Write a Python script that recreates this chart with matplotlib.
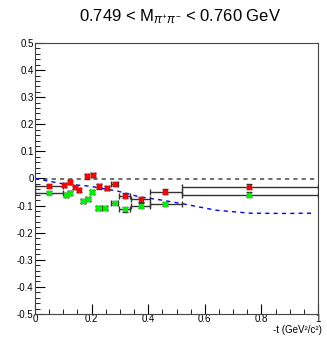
import numpy as np
import matplotlib
matplotlib.use("Agg")
import matplotlib.pyplot as plt
from matplotlib.ticker import MultipleLocator

plt.rcParams['font.family'] = ['Liberation Sans', 'DejaVu Sans']
plt.rcParams['mathtext.fontset'] = 'custom'
plt.rcParams['mathtext.rm'] = 'Liberation Sans'
plt.rcParams['mathtext.it'] = 'Liberation Sans:italic'
plt.rcParams['axes.unicode_minus'] = True

# red series
red_t = [0.05, 0.104, 0.122, 0.14, 0.154, 0.183, 0.205, 0.226, 0.255, 0.281, 0.317, 0.376, 0.458, 0.755]
red_v = [-0.028, -0.023, -0.012, -0.033, -0.041, 0.008, 0.013, -0.029, -0.034, -0.02, -0.063, -0.077, -0.049, -0.030]
red_xlo = [0.05, 0.005, 0.006, 0.006, 0.006, 0.006, 0.006, 0.008, 0.008, 0.012, 0.02, 0.036, 0.053, 0.235]
red_xhi = [0.05, 0.005, 0.006, 0.006, 0.006, 0.006, 0.006, 0.008, 0.008, 0.012, 0.02, 0.029, 0.062, 0.245]
red_yerr = [0.008, 0.007, 0.007, 0.007, 0.007, 0.008, 0.008, 0.008, 0.008, 0.008, 0.008, 0.008, 0.009, 0.01]

# green series
grn_t = [0.05, 0.11, 0.122, 0.17, 0.187, 0.201, 0.222, 0.246, 0.281, 0.317, 0.376, 0.458, 0.755]
grn_v = [-0.052, -0.061, -0.053, -0.082, -0.076, -0.049, -0.110, -0.109, -0.090, -0.114, -0.100, -0.093, -0.060]
grn_xlo = [0.05, 0.005, 0.005, 0.006, 0.006, 0.006, 0.008, 0.008, 0.012, 0.02, 0.036, 0.053, 0.235]
grn_xhi = [0.05, 0.005, 0.005, 0.006, 0.006, 0.006, 0.008, 0.008, 0.012, 0.02, 0.029, 0.062, 0.245]
grn_yerr = [0.007, 0.007, 0.007, 0.007, 0.007, 0.007, 0.008, 0.008, 0.008, 0.008, 0.008, 0.008, 0.009]

# blue dashed curve
curve_t = [0.0, 0.05, 0.1, 0.19, 0.29, 0.37, 0.45, 0.52, 0.64, 0.76, 0.88, 0.98]
curve_v = [0.0, -0.01, -0.02, -0.028, -0.046, -0.068, -0.08, -0.093, -0.117, -0.128, -0.129, -0.128]

fig = plt.figure(figsize=(3.27, 3.37), dpi=100)
ax = fig.add_axes([35/327, 23/337, 283/327, 271/337])

ax.axhline(0, color='#555555', ls=(0, (2.5, 2.5)), lw=1.2, zorder=1)
ax.plot(curve_t, curve_v, color='#0000ff', ls=(0, (3, 3)), lw=1.0, zorder=2)

ax.errorbar(red_t, red_v, xerr=[red_xlo, red_xhi], yerr=red_yerr, fmt='s',
            color='#ff0000', mec='#ff0000', ms=3, ecolor='#333333', elinewidth=1,
            capsize=2, zorder=3)
ax.errorbar(grn_t, grn_v, xerr=[grn_xlo, grn_xhi], yerr=grn_yerr, fmt='s',
            color='#00ee00', mec='#00ee00', ms=3, ecolor='#333333', elinewidth=1,
            capsize=2, zorder=3)

ax.set_xlim(0, 1)
ax.set_ylim(-0.5, 0.5)
ax.xaxis.set_major_locator(MultipleLocator(0.2))
ax.xaxis.set_minor_locator(MultipleLocator(0.05))
ax.yaxis.set_major_locator(MultipleLocator(0.1))
ax.yaxis.set_minor_locator(MultipleLocator(0.02))
ax.tick_params(which='both', direction='in', labelsize=7, top=False, right=False)
ax.tick_params(which='major', length=7)
ax.tick_params(which='minor', length=3.5)
ax.set_yticklabels(['%g' % v if abs(v) > 1e-9 else '0' for v in ax.get_yticks()])
ax.set_xticklabels(['%g' % v for v in ax.get_xticks()])
ax.tick_params(axis='x', pad=0)
ax.tick_params(axis='y', pad=1)
for s in ax.spines.values():
    s.set_color('#444444')

fig.text(322/327, 1 - 335/337, '-t (GeV\u00b2/c\u00b2)', ha='right', va='bottom', fontsize=7)
fig.text(0.55, 0.95, r'0.749 < M$_{\pi^{+}\pi^{-}}$ < 0.760 GeV', ha='center', va='center', fontsize=12)

fig.savefig('out.png', dpi=100)
